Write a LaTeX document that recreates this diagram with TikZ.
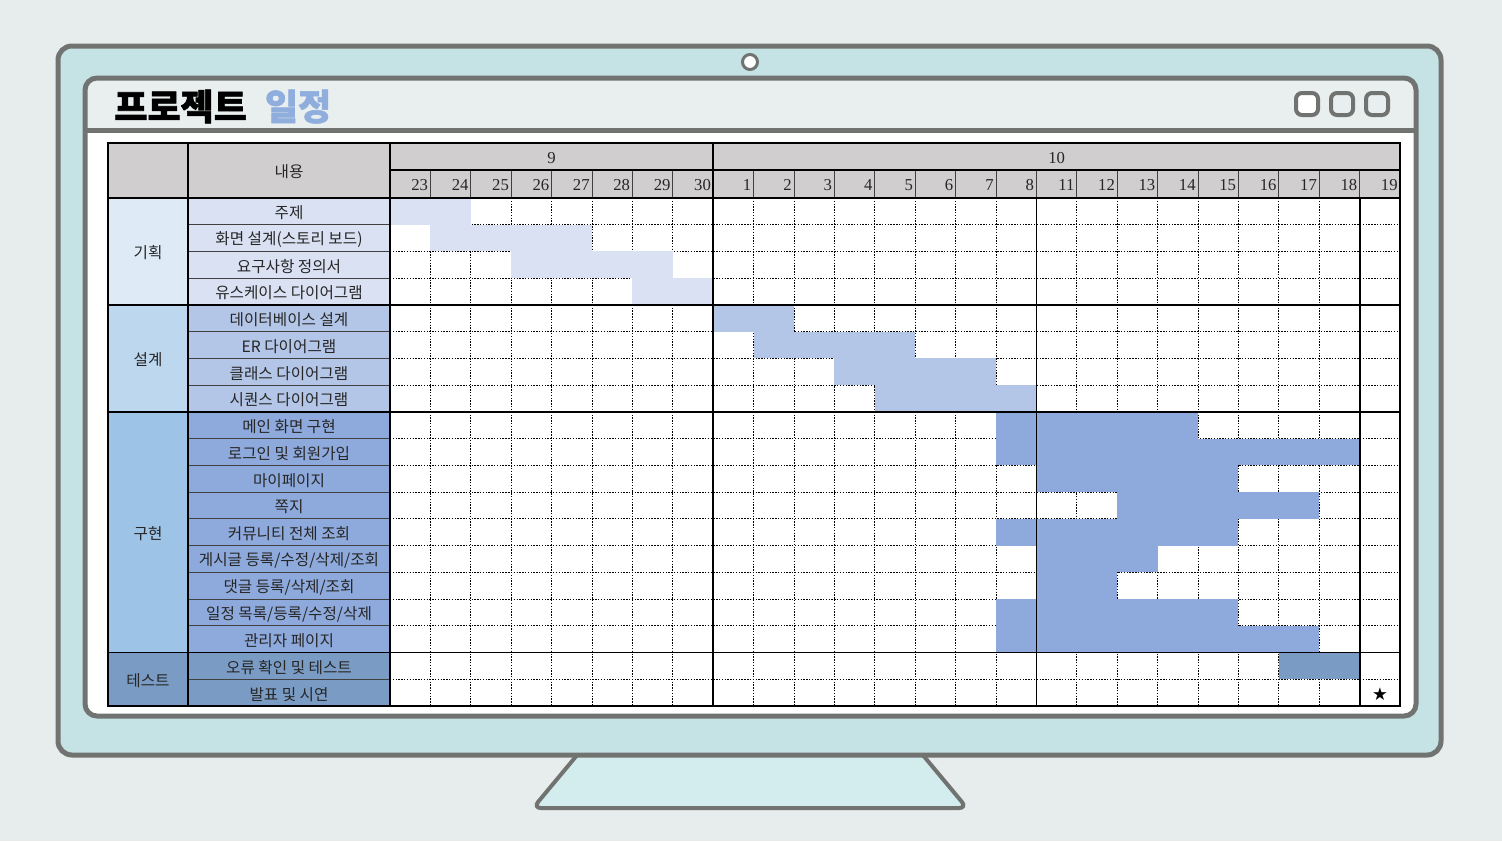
\documentclass[tikz,border=0pt]{standalone}
\usepackage{fontspec}
\setmainfont{Liberation Serif}
\newfontfamily\kr{Noto Sans CJK KR}
\newfontfamily\krtitle[BoldFeatures={FakeBold=1.6}]{Noto Sans CJK KR}
\newfontfamily\sym{DejaVu Sans}
\usetikzlibrary{positioning, calc}

\definecolor{bgback}{HTML}{E7ECEC}
\definecolor{frameteal}{HTML}{C5E3E5}
\definecolor{standteal}{HTML}{D3ECEE}
\definecolor{framegray}{HTML}{717371}
\definecolor{barbg}{HTML}{E9EEEF}
\definecolor{headgray}{HTML}{D0CECE}
\definecolor{planlight}{HTML}{DEEBF7}
\definecolor{planblue}{HTML}{D9E1F2}
\definecolor{designlight}{HTML}{BDD7EE}
\definecolor{designblue}{HTML}{B4C6E7}
\definecolor{buildlight}{HTML}{9DC3E6}
\definecolor{buildblue}{HTML}{8EA9DB}
\definecolor{testblue}{HTML}{7A9CC4}
\definecolor{titleblue}{HTML}{8FAEDD}

\tikzset{
  tasklbl/.style={font=\kr\fontsize{8.9}{10}\selectfont, inner sep=0pt, text=black!85},
  daynum/.style={font=\fontsize{9.5}{11}\selectfont, anchor=east, inner sep=0pt, text=black!85},
  gridline/.style={dash pattern=on 0.8pt off 0.8pt, line width=0.45pt},
  thinline/.style={line width=0.5pt, draw=black!75},
  thickline/.style={line width=1pt},
  winbtn/.style={draw=framegray, line width=0.8mm, rounded corners=1.2mm, minimum size=4.4mm, inner sep=0pt},
}

\begin{document}
\begin{tikzpicture}[x=0.2mm, y=-0.2mm]
  % Background
  \fill[bgback] (0,0) rectangle (1502,841);
  \useasboundingbox (0,0) rectangle (1502,841);

  % Monitor stand and bezel
  \draw[framegray, line width=0.8mm, fill=standteal, rounded corners=1.6mm] (583,748) -- (533,808) -- (967,808) -- (917,748);
  \draw[framegray, line width=1mm, fill=frameteal, rounded corners=2.8mm] (58,46) rectangle (1441,755);
  \node[circle, draw=framegray, line width=0.6mm, fill=white, minimum size=3mm, inner sep=0pt] (camera) at (750,62) {};

  % Screen
  \fill[white, rounded corners=2.4mm] (85,78) rectangle (1416,716);
  \begin{scope}
    \clip[rounded corners=2.4mm] (85,78) rectangle (1416,716);
    \fill[barbg] (85,78) rectangle (1416,130);
  \end{scope}
  \draw[framegray, line width=1mm] (85,130) -- (1416,130);
  \draw[framegray, line width=1mm, rounded corners=2.4mm] (85,78) rectangle (1416,716);

  % Title bar
  \node[anchor=base west, inner sep=0pt, font=\krtitle\bfseries\fontsize{20.5}{24}\selectfont] (title) at (114,120) {프로젝트\hspace{0.5em}\textcolor{titleblue}{일정}};
  \node[winbtn, fill=white] (btnA) at (1307,104) {};
  \node[winbtn, fill=barbg] (btnB) at (1342,104) {};
  \node[winbtn, fill=barbg] (btnC) at (1377,104) {};

  % Table header
  \fill[headgray] (108,143) rectangle (1400,198);
  \node[tasklbl] (head) at (289,172) {내용};
  \node[daynum, anchor=center] (sep) at (551.6,158) {9};
  \node[daynum, anchor=center] (oct) at (1056.6,158) {10};
  \foreach \d [count=\i] in {23,24,25,26,27,28,29,30,1,2,3,4,5,6,7,8,11,12,13,14,15,16,17,18,19}
    \node[daynum] (day\d) at ({390+40.4*\i-2},185) {\d};

  % Group and task cells
  \foreach \grp/\a/\b/\gcol/\tcol/\txt in {plan/0/4/planlight/planblue/기획, design/4/8/designlight/designblue/설계, build/8/17/buildlight/buildblue/구현, test/17/19/testblue/testblue/테스트} {
    \fill[\gcol] (108,{198+26.74*\a}) rectangle (188,{198+26.74*\b});
    \fill[\tcol] (188,{198+26.74*\a}) rectangle (390,{198+26.74*\b});
    \node[tasklbl] (grp-\grp) at (148,{199.5+26.74*(\a+\b)/2}) {\txt};
  }
  \foreach \txt [count=\r from 0] in {주제, 화면 설계(스토리 보드), 요구사항 정의서, 유스케이스 다이어그램, 데이터베이스 설계, ER 다이어그램, 클래스 다이어그램, 시퀀스 다이어그램, 메인 화면 구현, 로그인 및 회원가입, 마이페이지, 쪽지, 커뮤니티 전체 조회, 게시글 등록/수정/삭제/조회, 댓글 등록/삭제/조회, 일정 목록/등록/수정/삭제, 관리자 페이지, 오류 확인 및 테스트, 발표 및 시연}
    \node[tasklbl] (task\r) at (289,{199.5+26.74*(\r+0.5)}) {\txt};

  % Grid
  \foreach \i in {1,...,24} {
    \draw[thinline] ({390+40.4*\i},170) -- ({390+40.4*\i},198);
    \draw[gridline] ({390+40.4*\i},198) -- ({390+40.4*\i},706);
  }
  \foreach \r in {1,...,18} {
    \draw[gridline] (390,{198+26.74*\r}) -- (1400,{198+26.74*\r});
    \draw[thinline] (188,{198+26.74*\r}) -- (390,{198+26.74*\r});
  }

  % Bars
  \foreach \r/\a/\b/\c in {0/0/2/planblue, 1/1/5/planblue, 1/0/1/white, 2/3/7/planblue, 3/6/8/planblue,
      4/8/10/designblue, 5/9/13/designblue, 6/11/15/designblue, 7/12/16/designblue,
      8/15/20/buildblue, 9/15/24/buildblue, 10/16/21/buildblue, 11/18/23/buildblue, 12/15/21/buildblue,
      13/16/19/buildblue, 14/16/18/buildblue, 15/15/21/buildblue, 16/15/23/buildblue, 17/22/24/testblue}
    \fill[\c] ({390+40.4*\a},{198+26.74*\r}) rectangle ({390+40.4*\b},{198+26.74*(\r+1)});
  \node[font=\sym\fontsize{10}{11}\selectfont, inner sep=0pt] (star) at (1380,{199+26.74*18.5}) {★};

  % Frame lines
  \draw[thickline] (108,143) rectangle (1400,706);
  \draw[thickline] (188,143) -- (188,706);
  \draw[thickline] (390,143) -- (390,706);
  \draw[thickline] (390,170) -- (1400,170);
  \draw[thickline] (108,198) -- (1400,198);
  \foreach \r in {4,8,17}
    \draw[thickline] (108,{198+26.74*\r}) -- (1400,{198+26.74*\r});
  \draw[thickline] (713.2,143) -- (713.2,706);
  \foreach \i in {16,24}
    \draw[thickline] ({390+40.4*\i},198) -- ({390+40.4*\i},706);
\end{tikzpicture}
\end{document}
